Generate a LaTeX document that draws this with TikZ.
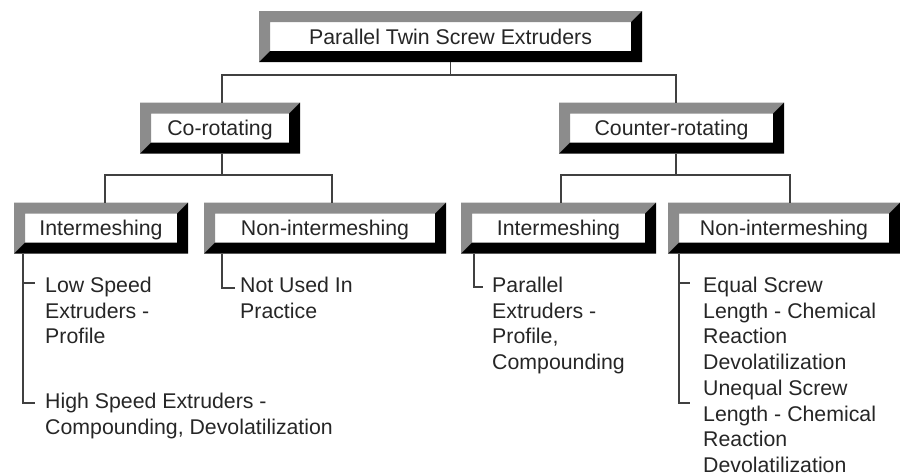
\documentclass[tikz,border=0pt]{standalone}
\usepackage{fontspec}
\setmainfont{Liberation Sans}
\colorlet{bevelgrey}{black!45}
\tikzset{
  bevelbox/.style={fill=white, inner sep=0pt, outer sep=11pt, minimum height=29pt,
    text height=15pt, text depth=0pt, text=black!85},
  branch/.style={line width=1.5pt, draw=black!75},
  leaf/.style={anchor=north west, inner sep=0pt, align=left, text=black!85},
}

\begin{document}
\begin{tikzpicture}[x=1pt, y=-1pt, font=\fontsize{21.3}{25.5}\selectfont]
\useasboundingbox (0,0) rectangle (900,475);

% boxes
\node[bevelbox, minimum width=361pt] (root) at (450.5, 36.5) {Parallel Twin Screw Extruders};
\node[bevelbox, minimum width=138pt] (co) at (220, 128) {Co-rotating};
\node[bevelbox, minimum width=203pt] (counter) at (671.5, 128) {Counter-rotating};
\node[bevelbox, minimum width=152pt] (lint) at (101, 228) {Intermeshing};
\node[bevelbox, minimum width=220pt] (lnon) at (325, 228) {Non-intermeshing};
\node[bevelbox, minimum width=173pt] (rint) at (558.5, 228) {Intermeshing};
\node[bevelbox, minimum width=210pt] (rnon) at (784, 228) {Non-intermeshing};

% bevels
\foreach \n in {root, co, counter, lint, lnon, rint, rnon} {
  \fill[bevelgrey] (\n.north west) -- (\n.north east) -- ([shift={(-11pt,-11pt)}]\n.north east)
    -- ([shift={(11pt,-11pt)}]\n.north west) -- ([shift={(11pt,11pt)}]\n.south west) -- (\n.south west) -- cycle;
  \fill[black] (\n.north east) -- (\n.south east) -- (\n.south west) -- ([shift={(11pt,11pt)}]\n.south west)
    -- ([shift={(-11pt,11pt)}]\n.south east) -- ([shift={(-11pt,-11pt)}]\n.north east) -- cycle;
}

% leaves
\node[leaf] (lowspeed) at (45, 277) {Low Speed\\Extruders -\\Profile};
\node[leaf] (highspeed) at (45, 393) {High Speed Extruders -\\Compounding, Devolatilization};
\node[leaf] (notused) at (240, 277) {Not Used In\\Practice};
\node[leaf] (parallel) at (492, 277) {Parallel\\Extruders -\\Profile,\\Compounding};
\node[leaf] (equal) at (703, 277) {Equal Screw\\Length - Chemical\\Reaction\\Devolatilization};
\node[leaf] (unequal) at (703, 380) {Unequal Screw\\Length - Chemical\\Reaction\\Devolatilization};

% connectors
\draw[branch] (root.south) -- ++(0,13) coordinate (topjoin);
\draw[branch] (topjoin) -| ([xshift=2pt]co.north);
\draw[branch] (topjoin) -| ([xshift=4.5pt]counter.north);

\draw[branch] ([xshift=2pt]co.south) -- ++(0,21.5) coordinate (cojoin);
\draw[branch] (cojoin) -| ([xshift=4pt]lint.north);
\draw[branch] (cojoin) -| ([xshift=7pt]lnon.north);

\draw[branch] ([xshift=4.5pt]counter.south) -- ++(0,21.5) coordinate (counterjoin);
\draw[branch] (counterjoin) -| ([xshift=2.5pt]rint.north);
\draw[branch] (counterjoin) -| ([xshift=6pt]rnon.north);

\draw[branch] ([xshift=9pt]lint.south west) |- ([shift={(-10pt,-6pt)}]lowspeed.north west);
\draw[branch] ([xshift=9pt]lint.south west) |- ([shift={(-10pt,-10pt)}]highspeed.north west);
\draw[branch] ([xshift=18pt]lnon.south west) |- ([shift={(-5pt,-11pt)}]notused.north west);
\draw[branch] ([xshift=13pt]rint.south west) |- ([shift={(-9pt,-10pt)}]parallel.north west);
\draw[branch] ([xshift=11pt]rnon.south west) |- ([shift={(-13pt,-6pt)}]equal.north west);
\draw[branch] ([xshift=11pt]rnon.south west) |- ([shift={(-13pt,-23pt)}]unequal.north west);
\end{tikzpicture}
\end{document}
